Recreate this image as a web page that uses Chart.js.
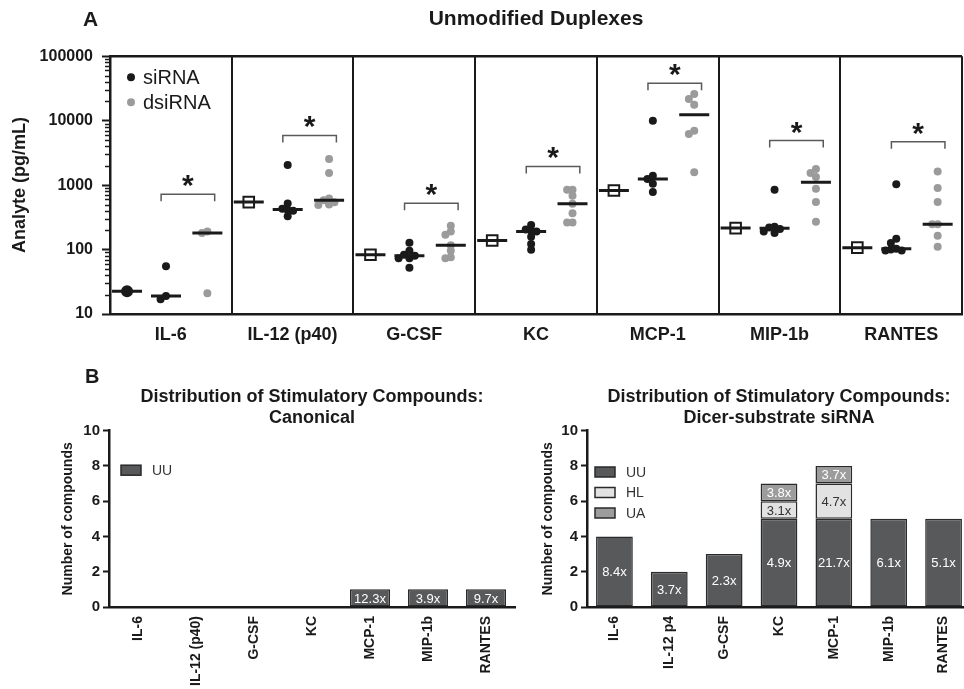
<!DOCTYPE html>
<html><head><meta charset="utf-8">
<script src="https://cdn.jsdelivr.net/npm/chart.js@4.4.1/dist/chart.umd.min.js"></script>
<style>
html,body{margin:0;padding:0;background:#fff;overflow:hidden;width:964px;height:689px}
#wrap{position:relative;width:964px;height:689px;overflow:hidden;background:#fff}
.c{position:absolute}
</style></head><body>
<div id="wrap">
<div class="c" style="left:0;top:0;width:980px;height:345px"><canvas id="cA"></canvas></div>
<div class="c" style="left:0;top:345px;width:525px;height:360px"><canvas id="cB1"></canvas></div>
<div class="c" style="left:480px;top:345px;width:500px;height:360px"><canvas id="cB2"></canvas></div>
</div>
<script>
// ---------- DATA ----------
const analytes = ['IL-6','IL-12 (p40)','G-CSF','KC','MCP-1','MIP-1b','RANTES'];
const controlValues = [22.5, 545, 83, 138, 826, 215, 107];
const sirnaValues = [
  [55, 19, 17],
  [2050, 520, 430, 410, 400, 330],
  [128, 96, 83, 80, 73, 73, 52],
  [241, 205, 195, 191, 158, 122, 99],
  [10000, 1400, 1240, 1050, 780],
  [845, 225, 220, 209, 190, 180],
  [1035, 147, 126, 103, 100, 97, 97]
];
const dsirnaValues = [
  [190, 180, 21],
  [2540, 1540, 620, 580, 540, 500, 490],
  [233, 190, 169, 117, 96, 76, 73],
  [845, 845, 682, 514, 367, 263, 263],
  [25900, 21700, 17700, 7000, 6200, 1585],
  [1775, 1540, 1330, 877, 545, 269],
  [1630, 898, 545, 248, 248, 163, 111]
];
const bracketLevels = [720, 5900, 525, 1950, 38000, 4900, 4700];
const yTicksA = [10, 100, 1000, 10000, 100000];

const analytesB2 = ['IL-6','IL-12 p4','G-CSF','KC','MCP-1','MIP-1b','RANTES'];
const canonicalUU = [0, 0, 0, 0, 1, 1, 1];
const canonicalUULabels = ['', '', '', '', '12.3x', '3.9x', '9.7x'];
const dicerUU = [4, 2, 3, 5, 5, 5, 5];
const dicerHL = [0, 0, 0, 1, 2, 0, 0];
const dicerUA = [0, 0, 0, 1, 1, 0, 0];
const dicerUULabels = ['8.4x', '3.7x', '2.3x', '4.9x', '21.7x', '6.1x', '5.1x'];
const dicerHLLabels = ['', '', '', '3.1x', '4.7x', '', ''];
const dicerUALabels = ['', '', '', '3.8x', '3.7x', '', ''];
const yTicksB = [0, 2, 4, 6, 8, 10];

// ---------- STYLE ----------
const FONT = '"Liberation Sans", Arial, Helvetica, sans-serif';
Chart.defaults.font.family = FONT;
Chart.defaults.color = '#1a1a1a';
const INK = '#1a1a1a';
const C_UU = '#58595b', C_HL = '#e2e2e2', C_UA = '#9c9c9c';
const GRAY_DOT = '#9b9b9b';
const CTRL_X = 0.14, SI_X = 0.46, DS_X = 0.80;

function median(a){ const s=[...a].sort((p,q)=>p-q); const n=s.length; return n%2 ? s[(n-1)/2] : (s[n/2-1]+s[n/2])/2; }

// simple beeswarm layout (pixel approximations of axis scale for spacing only)
const PX_PER_UNIT = 124, PX_PER_DECADE = 64.5, STEP = 5.5, MIN_D = 5.5;
function swarm(values, center){
  const placed=[]; const out=new Array(values.length);
  const order = values.map((v,i)=>i).sort((a,b)=>values[b]-values[a]);
  for(const i of order){
    const y = Math.log10(values[i])*PX_PER_DECADE;
    let dx=0;
    for(let k=0;k<30;k++){
      const cand = k===0?0:(k%2?-1:1)*Math.ceil(k/2)*STEP;
      if(placed.every(p=>Math.hypot(p.x-cand,p.y-y)>=MIN_D)){dx=cand;break;}
    }
    placed.push({x:dx,y});
    out[i]={x:center+dx/PX_PER_UNIT,y:values[i]};
  }
  return out;
}

const siPts=[], dsPts=[], ctrlPts=[], medPts=[];
analytes.forEach((a,i)=>{
  siPts.push(...swarm(sirnaValues[i], i+SI_X));
  dsPts.push(...swarm(dsirnaValues[i], i+DS_X));
  ctrlPts.push({x:i+CTRL_X, y:controlValues[i]});
  medPts.push({x:i+CTRL_X, y:controlValues[i]});
  medPts.push({x:i+SI_X, y:median(sirnaValues[i])});
  medPts.push({x:i+DS_X, y:median(dsirnaValues[i])});
});

// ---------- CHART A ----------
const pluginA = {
  id:'pA',
  afterDraw(chart){
    const {ctx, chartArea:ca, scales:{x,y}} = chart;
    ctx.save();
    // top frame
    ctx.strokeStyle=INK; ctx.lineWidth=2.5;
    ctx.beginPath(); ctx.moveTo(ca.left-1, ca.top); ctx.lineTo(ca.right, ca.top); ctx.stroke();
    // minor ticks
    ctx.lineWidth=1.5;
    for(let d=10; d<100000; d*=10){
      for(let k=2;k<=9;k++){
        const py=Math.round(y.getPixelForValue(k*d))+0.5;
        ctx.beginPath(); ctx.moveTo(ca.left-5,py); ctx.lineTo(ca.left,py); ctx.stroke();
      }
    }
    // brackets & asterisks
    bracketLevels.forEach((lv,i)=>{
      const py=y.getPixelForValue(lv);
      const x1=x.getPixelForValue(i+0.42), x2=x.getPixelForValue(i+0.86);
      ctx.strokeStyle='#5a5a5a'; ctx.lineWidth=1.5;
      ctx.beginPath(); ctx.moveTo(x1,py+7); ctx.lineTo(x1,py); ctx.lineTo(x2,py); ctx.lineTo(x2,py+7); ctx.stroke();
      ctx.fillStyle=INK; ctx.font='bold 30px '+FONT; ctx.textAlign='center'; ctx.textBaseline='alphabetic';
      ctx.fillText('*',(x1+x2)/2,py+1);
    });
    // legend
    ctx.textAlign='left'; ctx.textBaseline='middle'; ctx.font='20px '+FONT;
    [['siRNA',INK],['dsiRNA',GRAY_DOT]].forEach(([t,c],k)=>{
      const cy=ca.top+21+k*25;
      ctx.fillStyle=c; ctx.beginPath(); ctx.arc(ca.left+21,cy,4,0,Math.PI*2); ctx.fill();
      ctx.fillStyle=INK; ctx.fillText(t,ca.left+33,cy+1);
    });
    // panel letter
    ctx.font='bold 21px '+FONT; ctx.fillStyle=INK; ctx.textBaseline='middle';
    ctx.fillText('A',83,20);
    ctx.restore();
  }
};

new Chart(document.getElementById('cA'),{
  type:'scatter',
  data:{datasets:[
    {label:'median', data:medPts, pointStyle:'line', pointRadius:15, pointHoverRadius:15, pointBorderWidth:3, borderColor:INK, backgroundColor:INK, order:0},
    {label:'Control', data:ctrlPts,
      pointStyle:(c)=>c.dataIndex===0?'circle':'rect',
      pointRadius:(c)=>c.dataIndex===0?5:7.5,
      pointBackgroundColor:(c)=>c.dataIndex===0?INK:'#ffffff',
      pointBorderColor:INK, pointBorderWidth:2, order:1},
    {label:'siRNA', data:siPts, pointRadius:4, pointBackgroundColor:INK, pointBorderWidth:0, order:2},
    {label:'dsiRNA', data:dsPts, pointRadius:4, pointBackgroundColor:GRAY_DOT, pointBorderWidth:0, order:3}
  ]},
  options:{
    responsive:true, maintainAspectRatio:false, animation:false,
    layout:{padding:{left:0,right:3,top:0,bottom:0}},
    plugins:{
      legend:{display:false}, tooltip:{enabled:false},
      title:{display:true, text:'Unmodified Duplexes', fullSize:false, color:INK,
        font:{size:21, weight:'bold'}, padding:{top:7,bottom:24}}
    },
    scales:{
      x:{type:'linear', min:0, max:7,
        afterBuildTicks:(s)=>{const t=[];for(let i=0;i<=7;i++){t.push({value:i}); if(i<7)t.push({value:i+0.5});} s.ticks=t;},
        ticks:{autoSkip:false, maxRotation:0, minRotation:0, padding:10, color:INK, font:{size:18,weight:'bold'},
          callback:(v)=>Number.isInteger(v)?'':analytes[Math.floor(v)]},
        grid:{drawTicks:false, lineWidth:2, color:(c)=>(c.tick && Number.isInteger(c.tick.value))?INK:'rgba(0,0,0,0)'},
        border:{color:INK, width:2.5},
        afterFit:(s)=>{s.height=31;}
      },
      y:{type:'logarithmic', min:10, max:100000,
        afterBuildTicks:(s)=>{s.ticks=yTicksA.map(v=>({value:v}));},
        ticks:{autoSkip:false, padding:9, color:INK, font:{size:16,weight:'bold'}, callback:(v)=>String(v)},
        grid:{drawOnChartArea:false, drawTicks:true, tickLength:8, tickWidth:2, tickColor:INK},
        border:{color:INK, width:2.5},
        title:{display:true, text:'Analyte (pg/mL)', color:INK, font:{size:18,weight:'bold'}, padding:{top:9,bottom:0}},
        afterFit:(s)=>{s.width=110;}
      }
    }
  },
  plugins:[pluginA]
});

// ---------- CHART B helpers ----------
function barLabelPlugin(labelSets, colors){
  return {id:'barLabels', afterDatasetsDraw(chart){
    const {ctx}=chart; ctx.save();
    ctx.font='13px '+FONT; ctx.textAlign='center'; ctx.textBaseline='middle';
    chart.data.datasets.forEach((ds,di)=>{
      const meta=chart.getDatasetMeta(di);
      meta.data.forEach((el,i)=>{
        const t=labelSets[di][i]; if(!t||ds.data[i]==null) return;
        ctx.fillStyle=colors[di];
        ctx.fillText(t, el.x, (el.y+el.base)/2+1);
      });
    });
    ctx.restore();
  }};
}
function legendPlugin(items, dx, dy, gap, letter){
  return {id:'bLegend', afterDraw(chart){
    const {ctx, chartArea:ca}=chart; ctx.save();
    items.forEach(([t,c],k)=>{
      const cy=ca.top+dy+k*gap;
      ctx.fillStyle=c; ctx.fillRect(ca.left+dx, cy-5, 20, 10);
      ctx.strokeStyle='#2a2a2a'; ctx.lineWidth=1.5; ctx.strokeRect(ca.left+dx, cy-5, 20, 10);
      ctx.fillStyle='#333'; ctx.font='14px '+FONT; ctx.textAlign='left'; ctx.textBaseline='middle';
      ctx.fillText(t, ca.left+dx+31, cy+1);
    });
    if(letter){ ctx.fillStyle=INK; ctx.font='bold 20px '+FONT; ctx.textAlign='left'; ctx.textBaseline='middle'; ctx.fillText(letter,85,32); }
    ctx.restore();
  }};
}
function scalesB(yWidth, titlePad, labels){
  return {
    x:{type:'category', labels:labels, offset:true,
      ticks:{autoSkip:false, minRotation:90, maxRotation:90, padding:9, color:INK, font:{size:14,weight:'bold'}},
      grid:{display:false, drawTicks:false},
      border:{color:INK, width:2.5},
      afterFit:(s)=>{s.height=98;}
    },
    y:{type:'linear', min:0, max:10, stacked:true,
      afterBuildTicks:(s)=>{s.ticks=yTicksB.map(v=>({value:v}));},
      ticks:{autoSkip:false, padding:3, color:INK, font:{size:15,weight:'bold'}},
      grid:{drawOnChartArea:false, drawTicks:true, tickLength:6, tickWidth:2, tickColor:INK},
      border:{color:INK, width:2.5},
      title:{display:true, text:'Number of compounds', color:INK, font:{size:14,weight:'bold'}, padding:{top:titlePad,bottom:0}},
      afterFit:(s)=>{s.width=yWidth;}
    }
  };
}
const nz = (a)=>a.map(v=>v===0?null:v);
const barCommon = {borderColor:'#2a2a2a', borderWidth:1.5, borderSkipped:false, categoryPercentage:1};

// ---------- CHART B1 ----------
new Chart(document.getElementById('cB1'),{
  type:'bar',
  data:{labels:analytes, datasets:[
    Object.assign({label:'UU', data:nz(canonicalUU), backgroundColor:C_UU, barPercentage:0.69}, barCommon)
  ]},
  options:{
    responsive:true, maintainAspectRatio:false, animation:false,
    layout:{padding:{left:0,right:10,top:0,bottom:0}},
    plugins:{legend:{display:false}, tooltip:{enabled:false},
      title:{display:true, text:['Distribution of Stimulatory Compounds:','Canonical'], fullSize:false, color:INK,
        font:{size:18,weight:'bold'}, padding:{top:41,bottom:1.5}}},
    scales:scalesB(109, 60, analytes)
  },
  plugins:[barLabelPlugin([canonicalUULabels],['#ffffff']), legendPlugin([['UU',C_UU]],12,39.5,0,'B')]
});

// ---------- CHART B2 ----------
new Chart(document.getElementById('cB2'),{
  type:'bar',
  data:{labels:analytesB2, datasets:[
    Object.assign({label:'UU', data:nz(dicerUU), backgroundColor:C_UU, barPercentage:0.67, stack:'s'}, barCommon),
    Object.assign({label:'HL', data:nz(dicerHL), backgroundColor:C_HL, barPercentage:0.67, stack:'s'}, barCommon),
    Object.assign({label:'UA', data:nz(dicerUA), backgroundColor:C_UA, barPercentage:0.67, stack:'s'}, barCommon)
  ]},
  options:{
    responsive:true, maintainAspectRatio:false, animation:false,
    layout:{padding:{left:0,right:9,top:0,bottom:0}},
    plugins:{legend:{display:false}, tooltip:{enabled:false},
      title:{display:true, text:['Distribution of Stimulatory Compounds:','Dicer-substrate siRNA'], fullSize:false, color:INK,
        font:{size:18,weight:'bold'}, padding:{top:41,bottom:1.5}}},
    scales:scalesB(107, 59.5, analytesB2)
  },
  plugins:[barLabelPlugin([dicerUULabels,dicerHLLabels,dicerUALabels],['#ffffff','#333333','#ffffff']),
           legendPlugin([['UU',C_UU],['HL',C_HL],['UA',C_UA]],8,41.3,20.5,null)]
});
</script>
</body></html>
